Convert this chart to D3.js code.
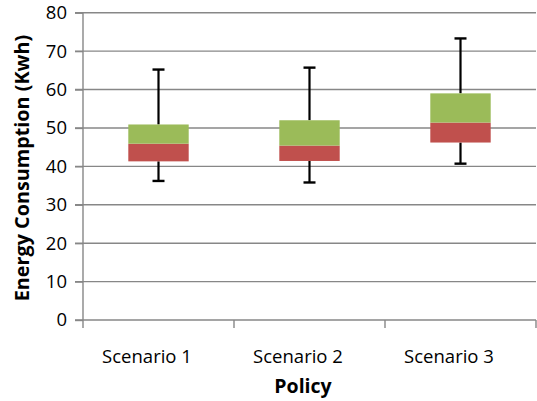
<!DOCTYPE html>
<html><head><meta charset="utf-8">
<script src="https://cdn.jsdelivr.net/npm/d3@7"></script>
<style>
html,body{margin:0;padding:0;background:#fff;}
text{font-family:"Open Sans", sans-serif;}
</style></head>
<body>
<svg id="chart" width="537" height="401"></svg>
<script>
const categories = ["Scenario 1", "Scenario 2", "Scenario 3"];
const minValues = [36.2, 35.8, 40.7];
const q1Values = [41.3, 41.4, 46.2];
const medianValues = [45.9, 45.4, 51.4];
const q3Values = [50.9, 52.0, 59.0];
const maxValues = [65.2, 65.7, 73.3];
const yTicks = [0, 10, 20, 30, 40, 50, 60, 70, 80];
const xTitle = "Policy";
const yTitle = "Energy Consumption (Kwh)";

const data = categories.map((c, i) => ({
  cat: c, min: minValues[i], q1: q1Values[i], med: medianValues[i], q3: q3Values[i], max: maxValues[i]
}));

const svg = d3.select("#chart");
const pLeft = 83, pRight = 536, pTop = 12.7, pBottom = 320;
const FONT = "'Open Sans', sans-serif";

const x = d3.scaleBand().domain(categories).range([pLeft, pRight]).padding(0);
const y = d3.scaleLinear().domain([0, 80]).range([pBottom, pTop]);

const gridColor = "#878787";

// gridlines
svg.append("g").selectAll("line").data(yTicks).join("line")
  .attr("x1", pLeft - 8).attr("x2", pRight)
  .attr("y1", d => y(d)).attr("y2", d => y(d))
  .attr("stroke", gridColor).attr("stroke-width", 1.4);

// y axis
const yAxis = svg.append("g").attr("transform", `translate(${pLeft},0)`)
  .call(d3.axisLeft(y).tickValues(yTicks).tickSize(8).tickPadding(8));
yAxis.select(".domain").remove();
yAxis.selectAll(".tick line").attr("stroke", gridColor).attr("stroke-width", 1.4);
yAxis.selectAll(".tick text").attr("font-size", 18.5).attr("fill", "#000")
  .attr("font-family", FONT);
svg.append("line").attr("x1", pLeft).attr("x2", pLeft).attr("y1", pTop).attr("y2", pBottom + 8)
  .attr("stroke", gridColor).attr("stroke-width", 1.4);

// x axis ticks at band boundaries
const bounds = categories.map(c => x(c) + x.bandwidth());
svg.append("g").selectAll("line").data(bounds).join("line")
  .attr("x1", d => d).attr("x2", d => d).attr("y1", pBottom).attr("y2", pBottom + 8)
  .attr("stroke", gridColor).attr("stroke-width", 1.4);

// x labels
svg.append("g").selectAll("text").data(categories).join("text")
  .attr("x", d => x(d) + x.bandwidth() / 2 - 11.5).attr("y", 363)
  .attr("text-anchor", "middle").attr("font-size", 18.5).attr("fill", "#000")
  .attr("font-family", FONT)
  .text(d => d);

const bw = x.bandwidth() * 0.4;
const cx = d => x(d.cat) + x.bandwidth() / 2;

// whiskers
const g = svg.append("g");
g.selectAll(".wu").data(data).join("line")
  .attr("x1", cx).attr("x2", cx).attr("y1", d => y(d.q3)).attr("y2", d => y(d.max))
  .attr("stroke", "#000").attr("stroke-width", 2.2);
g.selectAll(".wl").data(data).join("line")
  .attr("x1", cx).attr("x2", cx).attr("y1", d => y(d.q1)).attr("y2", d => y(d.min))
  .attr("stroke", "#000").attr("stroke-width", 2.2);
g.selectAll(".cu").data(data).join("line")
  .attr("x1", d => cx(d) - 6).attr("x2", d => cx(d) + 6).attr("y1", d => y(d.max)).attr("y2", d => y(d.max))
  .attr("stroke", "#000").attr("stroke-width", 2.4);
g.selectAll(".cl").data(data).join("line")
  .attr("x1", d => cx(d) - 6).attr("x2", d => cx(d) + 6).attr("y1", d => y(d.min)).attr("y2", d => y(d.min))
  .attr("stroke", "#000").attr("stroke-width", 2.4);

// boxes
g.selectAll(".lower").data(data).join("rect")
  .attr("x", d => cx(d) - bw / 2).attr("width", bw)
  .attr("y", d => y(d.med)).attr("height", d => y(d.q1) - y(d.med))
  .attr("fill", "#C0504D");
g.selectAll(".upper").data(data).join("rect")
  .attr("x", d => cx(d) - bw / 2).attr("width", bw)
  .attr("y", d => y(d.q3)).attr("height", d => y(d.med) - y(d.q3))
  .attr("fill", "#9BBB59");

// titles
svg.append("text").attr("x", 303).attr("y", 393)
  .attr("text-anchor", "middle").attr("font-size", 19.5).attr("font-weight", "bold")
  .attr("font-family", FONT)
  .attr("fill", "#000").text(xTitle);
svg.append("text").attr("transform", `translate(29,168) rotate(-90)`)
  .attr("text-anchor", "middle").attr("font-size", 19.8).attr("font-weight", "bold")
  .attr("font-family", FONT)
  .attr("fill", "#000").text(yTitle);
</script>
</body></html>
